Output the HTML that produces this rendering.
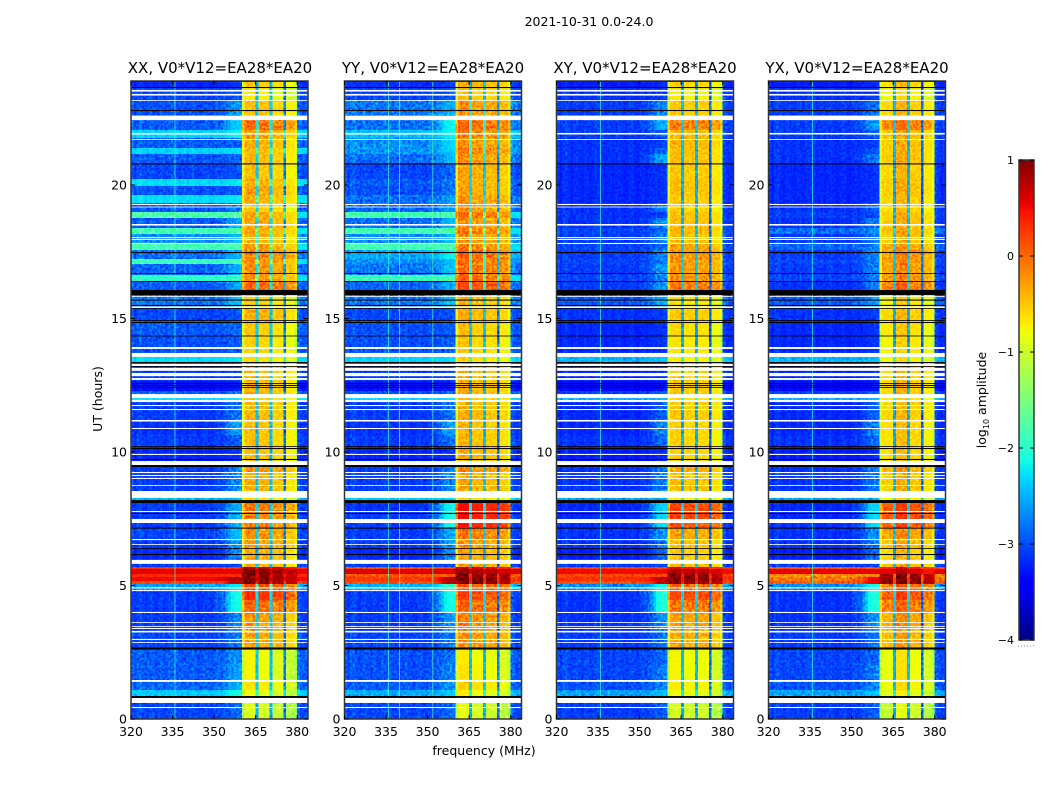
<!DOCTYPE html>
<html>
<head>
<meta charset="utf-8">
<title>2021-10-31 0.0-24.0</title>
<style>
html,body{margin:0;padding:0;background:#fff;width:1050px;height:800px;overflow:hidden}
svg{display:block}
text{font-family:"DejaVu Sans","Liberation Sans",sans-serif;fill:#000}
.tick{font-size:12.5px}
.title{font-size:15px}
</style>
</head>
<body>
<svg id="chart" xmlns="http://www.w3.org/2000/svg" width="1050" height="800" viewBox="0 0 1050 800">
<defs>
<filter id="grain" x="0" y="0" width="100%" height="100%" color-interpolation-filters="sRGB">
<feTurbulence type="fractalNoise" baseFrequency="0.38" numOctaves="2" seed="4"/>
<feColorMatrix type="matrix" values="1.8 0 0 0 -0.4 1.8 0 0 0 -0.4 1.8 0 0 0 -0.4 0 0 0 0 1"/>
</filter>
</defs>
<text x="589" y="26" text-anchor="middle" font-size="12.5">2021-10-31 0.0-24.0</text>
<text x="484" y="755" text-anchor="middle" font-size="12.5">frequency (MHz)</text>
<text transform="translate(102,399) rotate(-90)" text-anchor="middle" font-size="12.5">UT (hours)</text>
<text transform="translate(986,400) rotate(-90)" text-anchor="middle" font-size="12.5">log<tspan font-size="8" dy="3">10</tspan><tspan dy="-3"> amplitude</tspan></text>
</svg>
<script>
// ---- data ----
const panelTitles = ["XX, V0*V12=EA28*EA20","YY, V0*V12=EA28*EA20","XY, V0*V12=EA28*EA20","YX, V0*V12=EA28*EA20"];
const xTicks = [320,335,350,365,380];
const yTicks = [0,5,10,15,20];
const colorbarTicks = [-4,-3,-2,-1,0,1];
const colorbarLabels = ["\u22124","\u22123","\u22122","\u22121","0","1"];

// time block boundaries in UT hours, top to bottom
const hourEdges = [23.90,23.67,23.18,22.62,22.43,22.06,21.76,21.39,21.16,20.82,
20.22,19.96,19.63,19.33,18.99,18.76,18.39,18.16,17.79,17.57,
17.23,17.04,16.63,16.40,16.07,15.88,15.43,14.94,14.34,13.71,
13.56,13.37,12.66,12.28,12.06,11.91,11.20,10.64,10.22,9.48,
9.25,8.54,8.31,8.09,7.75,7.45,7.19,6.70,6.40,5.96,
5.69,5.62,5.43,5.32,5.17,5.06,4.83,4.46,4.01,3.30,
2.66,2.06,1.46,1.09,0.86,0.64,0];

// log10 amplitude of the quiet band (320-355 MHz) per time block
const xxQuiet = [-3.2,-3.05,-3.0,-3.0,-2.95,-2.35,-2.95,-2.35,-2.95,-3.05,
-2.3,-3.0,-2.3,-2.95,-1.8,-2.95,-1.85,-2.7,-1.85,-2.85,
-1.9,-2.9,-2.0,-2.95,-3.1,-2.8,-3.05,-2.95,-3.0,-3.0,
-2.3,-3.1,-3.3,-2.95,-2.3,-3.1,-3.15,-3.1,-3.2,-3.1,
-3.1,-3.1,-2.5,-3.1,-3.1,-3.1,-3.05,-3.1,-3.2,-3.1,
0.3,0.55,0.35,0.5,0.2,-2.6,-3.1,-3.1,-3.1,-3.05,
-2.95,-2.95,-2.9,-2.4,-3.0,-3.05];
const yyQuiet = [-3.15,-3.05,-2.8,-3.0,-2.85,-2.45,-2.7,-2.65,-2.85,-3.05,
-2.95,-3.0,-2.85,-2.9,-1.85,-2.85,-1.85,-2.7,-1.85,-2.55,
-2.7,-2.8,-1.9,-2.9,-3.1,-2.8,-3.05,-3.0,-3.0,-3.0,
-2.35,-3.1,-3.3,-3.0,-2.35,-3.1,-3.15,-3.1,-3.2,-3.1,
-3.1,-3.1,-2.4,-3.15,-3.1,-3.1,-3.1,-3.1,-3.2,-3.1,
0.2,0.6,0.1,0.25,0.15,-2.5,-3.1,-3.1,-3.1,-3.05,
-3.0,-3.0,-2.95,-2.55,-3.0,-3.05];
const xyQuiet = [-3.25,-3.15,-3.1,-3.1,-3.1,-3.1,-3.15,-3.15,-3.15,-3.2,
-3.2,-3.2,-3.2,-3.15,-3.15,-3.15,-3.05,-3.1,-3.05,-3.1,
-3.05,-3.1,-3.05,-3.1,-3.2,-2.95,-3.15,-3.2,-3.2,-3.2,
-2.5,-3.2,-3.35,-3.1,-2.55,-3.2,-3.2,-3.15,-3.25,-3.15,
-3.15,-3.15,-2.6,-3.2,-3.2,-3.15,-3.15,-3.15,-3.25,-3.1,
0.25,0.5,0.2,0.3,0.15,-2.7,-3.15,-3.15,-3.15,-3.1,
-3.05,-3.05,-3.0,-2.6,-3.05,-3.1];
const yxQuiet = [-3.25,-3.15,-3.1,-3.1,-3.1,-3.1,-3.15,-3.15,-3.15,-3.2,
-3.2,-3.2,-3.2,-3.15,-3.1,-3.15,-2.85,-3.1,-2.9,-3.1,
-3.05,-3.1,-3.05,-3.15,-3.2,-2.95,-3.15,-3.2,-3.2,-3.2,
-2.5,-3.2,-3.35,-3.1,-2.55,-3.2,-3.2,-3.15,-3.25,-3.15,
-3.15,-3.15,-2.6,-3.2,-3.2,-3.15,-3.15,-3.15,-3.25,-3.1,
0.15,0.55,-0.2,-0.05,0.05,-2.7,-3.15,-3.15,-3.15,-3.1,
-3.05,-3.05,-3.0,-2.6,-3.05,-3.1];

// log10 amplitude of the bright band (360-380 MHz) per time block
const xxBand = [-0.6,-0.8,-0.55,-0.55,-0.1,-0.35,-0.45,-0.5,-0.5,-0.55,
-0.45,-0.4,-0.45,-0.6,-0.4,-0.4,-0.4,-0.45,-0.35,-0.2,
-0.3,-0.3,-0.3,-0.05,-0.8,-0.65,-0.45,-0.6,-0.65,-0.65,
-0.7,-0.5,-0.5,-0.45,-0.6,-0.5,-0.55,-0.55,-0.55,-0.3,
-0.45,-0.4,-0.7,-0.15,-0.2,-0.2,-0.3,-0.35,-0.45,-0.45,
0.7,0.9,0.9,0.9,0.9,0.1,0.25,-0.05,-0.35,-0.4,
-0.85,-0.85,-0.75,-0.9,-1.0,-1.0];
const yyBand = [-0.5,-0.6,-0.35,-0.5,-0.1,-0.2,-0.35,-0.2,-0.35,-0.45,
-0.45,-0.45,-0.35,-0.35,-0.15,-0.35,-0.2,-0.35,-0.25,-0.05,
-0.15,-0.15,-0.1,0.05,-0.7,-0.55,-0.5,-0.6,-0.65,-0.65,
-0.7,-0.5,-0.5,-0.5,-0.6,-0.5,-0.55,-0.55,-0.5,-0.3,
-0.45,-0.4,-0.7,0.35,0.35,0.3,-0.2,-0.35,-0.45,-0.4,
0.55,0.75,0.9,0.95,0.95,0.0,0.1,-0.1,-0.3,-0.35,
-0.85,-0.8,-0.7,-0.85,-1.0,-1.0];
const xyBand = [-0.6,-0.75,-0.55,-0.55,-0.15,-0.45,-0.45,-0.5,-0.5,-0.55,
-0.5,-0.5,-0.55,-0.6,-0.5,-0.5,-0.45,-0.5,-0.35,-0.25,
-0.3,-0.3,-0.25,-0.1,-0.85,-0.7,-0.55,-0.65,-0.7,-0.7,
-0.75,-0.55,-0.55,-0.55,-0.65,-0.55,-0.6,-0.6,-0.6,-0.4,
-0.5,-0.5,-0.75,0.15,0.2,0.1,-0.35,-0.5,-0.55,-0.45,
0.5,0.75,0.9,0.95,0.9,0.0,0.15,-0.1,-0.35,-0.4,
-0.8,-0.8,-0.75,-0.85,-1.0,-1.0];
const yxBand = [-0.6,-0.75,-0.55,-0.55,-0.15,-0.45,-0.5,-0.5,-0.5,-0.55,
-0.5,-0.5,-0.55,-0.6,-0.5,-0.5,-0.45,-0.5,-0.35,-0.25,
-0.3,-0.3,-0.25,-0.1,-0.85,-0.7,-0.55,-0.65,-0.7,-0.7,
-0.75,-0.55,-0.55,-0.55,-0.65,-0.55,-0.6,-0.6,-0.6,-0.4,
-0.5,-0.5,-0.75,0.1,0.15,0.05,-0.3,-0.45,-0.55,-0.45,
0.45,0.6,0.9,0.95,0.95,0.0,0.1,-0.1,-0.35,-0.4,
-0.8,-0.8,-0.75,-0.85,-1.0,-1.0];

// extra rise just below the band edge (345-359 MHz), log10 units per time block
const xxShoulder = [0,0,.3,0,.5,.1,0,0,0,0, 0,0,0,.1,0,.3,0,.2,0,.3, 0,.3,0,.3,0,.3,0,0,0,0, 0,0,0,.1,0,.2,.5,.1,0,.3, .3,0,0,.5,.5,.5,.5,.4,.4,0, 0,0,0,0,0,.3,.9,.9,.3,.2, .2,.3,.3,.2,0,.1];
const yyShoulder = [0,0,.2,0,.6,.2,.3,.2,.3,.1, .1,.1,.2,.2,0,.3,0,.2,0,.3, .2,.3,0,.3,0,.3,0,0,0,0, 0,0,0,.1,0,.2,.5,.2,0,.3, .3,0,0,.9,.9,.9,.5,.4,.4,0, 0,0,0,0,0,.5,.9,.9,.4,.2, .1,.2,.2,.1,0,.1];
const xyShoulder = [0,0,.3,0,.5,.1,0,.2,.5,0, 0,0,0,.3,0,.4,.1,.3,.1,.3, .2,.4,.2,.4,0,.4,0,0,0,0, 0,0,0,.1,0,.2,.4,.2,0,.3, .3,0,0,.8,.8,.8,.4,.3,.3,0, 0,0,0,0,0,.5,1.0,1.0,.4,.2, .1,.2,.2,.1,0,.1];
const yxShoulder = [0,0,.2,0,.4,.1,0,.1,.3,0, 0,0,0,.2,0,.3,.1,.2,.1,.3, .2,.3,.2,.3,0,.3,0,0,0,0, 0,0,0,.1,0,.2,.4,.2,0,.3, .3,0,0,.8,.8,.8,.4,.3,.3,0, 0,0,0,0,0,.5,1.0,1.0,.4,.2, .1,.2,.2,.1,0,.1];

// level offset of each of the four bright sub-bands
const xxSubband = [.1,.05,-.05,-.2];
const yySubband = [.15,.05,0,-.1];
const xySubband = [.05,0,0,-.15];
const yxSubband = [-.05,.15,0,-.15];

// 64 one-MHz channels starting at 320 MHz
const channelBandWeight = [0,0,0,0,0,0,0,0,0,0, 0,0,0,0,0,0,0,0,0,0, 0,0,0,0,0,0,0,0,0,0, 0,0,0,0,0,0,0,0,0,0,
.85,1,1,1,1,.25, 1,1,1,1,.25, 1,1,1,1,.1, 1,1,1,.92, 0,0,0,0];
const channelShoulderWeight = [0,0,0,0,0,0,0,0,0,0, 0,0,0,0,0,0,0,0,0,0, 0,0,0,0,0,0,0,0,.05,.05, .1,.15,.2,.3,.5,.75,.95,1,1,1,
0,0,0,0,0,0,0,0,0,0, 0,0,0,0,0,0,0,0,0,0, 0,0,0,0];
const channelRipple = [.08,-.05,.06,.1,.02,-.04,.03,.05,0,-.03, .04,.02,-.02,.03,.05,.05,.03,-.02,0,.02, -.03,.02,.05,0,-.04,-.02,.03,.04,-.03,-.05, .02,.03,-.02,.02,.03,.04,.05,.05,.08,.1,
0,.02,.04,0,-.02,0, .03,.04,0,-.03,0, .02,.04,0,-.03,0, .02,.04,0,0, .15,.05,0,.05];
// narrow interference lines: [frequency MHz, log10 amplitude]
const xxLines = [[335.7,-1.9]];
const yyLines = [[335.7,-1.9],[339.7,-1.4],[351.7,-1.7]];
const xyLines = [[335.7,-1.9]];
const yxLines = [[335.7,-2.0]];

// flagged samples, [start,end] in UT hours
const blankedHours = [[23.56,23.50],[23.41,23.35],[23.18,23.15],[22.60,22.43],[21.95,21.89],[21.72,21.69],[19.29,19.25],[19.19,19.16],[18.54,18.48],[18.05,18.01],[17.98,17.94],[17.83,17.79],[15.84,15.81],[15.45,15.39],[13.93,13.86],[13.71,13.56],[13.30,13.22],[13.15,13.04],[12.96,12.84],[12.77,12.70],[12.17,12.02],[11.95,11.87],[11.76,11.72],[11.61,11.57],[11.20,11.14],[10.90,10.86],[9.93,9.89],[9.66,9.51],[9.25,9.21],[9.14,9.10],[9.03,8.99],[8.76,8.73],[8.54,8.28],[7.79,7.75],[7.49,7.34],[6.74,6.70],[6.55,6.52],[5.96,5.81],[4.93,4.89],[4.83,4.79],[4.01,3.97],[3.63,3.60],[3.48,3.45],[3.41,3.37],[3.30,3.24],[3.00,2.96],[2.88,2.85],[1.46,1.39],[0.79,0.60],[0.45,0.41]];
const gapHours = [[23.90,23.86],[23.67,23.63],[22.81,22.77],[20.81,20.77],[17.49,17.45],[16.70,16.67],[16.40,16.37],[16.07,15.88],[15.71,15.67],[15.51,15.47],[15.39,15.36],[14.94,14.91],[14.87,14.83],[14.36,14.33],[13.37,13.33],[13.22,13.19],[12.58,12.55],[12.51,12.47],[12.43,12.40],[10.22,10.19],[10.15,10.11],[9.74,9.70],[9.51,9.44],[8.20,8.09],[7.72,7.68],[7.17,7.13],[6.40,6.37],[6.18,6.14],[2.68,2.60],[0.86,0.79]];

const panelQuiet = [xxQuiet,yyQuiet,xyQuiet,yxQuiet];
const panelBand = [xxBand,yyBand,xyBand,yxBand];
const panelShoulder = [xxShoulder,yyShoulder,xyShoulder,yxShoulder];
const panelSubband = [xxSubband,yySubband,xySubband,yxSubband];
const panelLines = [xxLines,yyLines,xyLines,yxLines];

// ---- layout and scales ----
const NS = "http://www.w3.org/2000/svg";
const svg = document.getElementById("chart");
const axLeft = [131,344.5,556.5,768.5];
const axW = 177, axTop = 81, axBottom = 719;
const xScale = (i,mhz) => axLeft[i] + (mhz-320)*2.77;
const yScale = h => axBottom - h*26.7;
const cbLeft = 1019, cbRight = 1034, cbTop = 160, cbBottom = 640;
const cbScale = v => cbBottom - (v+4)*(cbBottom-cbTop)/5;

function jet(v){
  const t = Math.max(0,Math.min(1,(v+4)/5));
  const seg = (a,pts) => {
    for(let k=1;k<pts.length;k++){
      if(a<=pts[k][0]){
        const f=(a-pts[k-1][0])/(pts[k][0]-pts[k-1][0]||1);
        return pts[k-1][1]+f*(pts[k][1]-pts[k-1][1]);
      }
    }
    return pts[pts.length-1][1];
  };
  const r = seg(t,[[0,0],[.35,0],[.66,1],[.89,1],[1,.5]]);
  const g = seg(t,[[0,0],[.125,0],[.375,1],[.64,1],[.91,0],[1,0]]);
  const b = seg(t,[[0,.5],[.11,1],[.34,1],[.65,0],[1,0]]);
  return "rgb("+Math.round(r*255)+","+Math.round(g*255)+","+Math.round(b*255)+")";
}
function channelLevel(p,row,c){
  const quiet = panelQuiet[p][row];
  const sub = c<46?0:c<51?1:c<56?2:3;
  const band = panelBand[p][row] + panelSubband[p][sub];
  const w = channelBandWeight[c];
  const inRed = quiet > -1;
  let base = quiet + (inRed ? 0 : channelRipple[c]) + panelShoulder[p][row]*channelShoulderWeight[c];
  if(inRed && channelShoulderWeight[c]>0 && row>=53) base += (band-quiet)*channelShoulderWeight[c]*.6;
  if(!inRed && c>=60) base = Math.min(base,-2.25);
  return base + (band-base)*w;
}
function node(tag,attrs,parent){
  const el = document.createElementNS(NS,tag);
  for(const k in attrs) el.setAttribute(k,attrs[k]);
  parent.appendChild(el);
  return el;
}

// ---- panels ----
panelTitles.forEach((title,p) => {
  const group = node("g",{},svg);
  
  
  const clipId = "clip"+p;
  const clip = node("clipPath",{id:clipId},group);
  node("rect",{x:axLeft[p],y:axTop,width:axW,height:axBottom-axTop},clip);
  const body = node("g",{"clip-path":"url(#"+clipId+")",style:"isolation:isolate"},group);

  const frag = document.createDocumentFragment();
  for(let row=0; row<hourEdges.length-1; row++){
    const y0 = yScale(hourEdges[row]), y1 = yScale(hourEdges[row+1]);
    for(let c=0; c<64; c++){
      const x0 = xScale(p,320+c);
      const cell = document.createElementNS(NS,"rect");
      
      
      cell.setAttribute("x",x0);
      cell.setAttribute("y",y0);
      cell.setAttribute("width",2.77+.3);
      cell.setAttribute("height",y1-y0+.3);
      cell.setAttribute("fill",jet(channelLevel(p,row,c)));
      cell.setAttribute("shape-rendering","crispEdges");
      frag.appendChild(cell);
    }
  }
  body.appendChild(frag);

  const grain = node("rect",{x:axLeft[p],y:axTop,width:axW,height:axBottom-axTop,filter:"url(#grain)",style:"mix-blend-mode:overlay",opacity:"0.65"},body);
  
  

  panelLines[p].forEach(l => {
    const r = node("rect",{x:xScale(p,l[0]),y:axTop,width:1,height:axBottom-axTop,fill:jet(l[1]),opacity:"0.7"},body);
    
    
  });
  blankedHours.forEach(b => {
    const r = node("rect",{x:axLeft[p],y:yScale(b[0]),width:axW,height:yScale(b[1])-yScale(b[0]),fill:"#fff"},body);
    
    
  });
  gapHours.forEach(b => {
    const r = node("rect",{x:axLeft[p],y:yScale(b[0]),width:axW,height:yScale(b[1])-yScale(b[0]),fill:"#000"},body);
    
    
  });

  const frame = node("rect",{x:axLeft[p],y:axTop,width:axW,height:axBottom-axTop,fill:"none",stroke:"#333","stroke-width":"1.5"},group);
  
  

  xTicks.forEach(t => {
    const x = xScale(p,t);
    const a = node("line",{x1:x,x2:x,y1:axBottom,y2:axBottom-4,stroke:"#000"},group);
    
    
    const b = node("line",{x1:x,x2:x,y1:axTop,y2:axTop+4,stroke:"#000"},group);
    
    
    const lab = node("text",{x:x,y:axBottom+17,"text-anchor":"middle",class:"tick"},group);
    
    
    lab.textContent = t;
  });
  yTicks.forEach(t => {
    const y = yScale(t);
    const a = node("line",{x1:axLeft[p],x2:axLeft[p]+4,y1:y,y2:y,stroke:"#000"},group);
    
    
    const b = node("line",{x1:axLeft[p]+axW,x2:axLeft[p]+axW-4,y1:y,y2:y,stroke:"#000"},group);
    
    
    const lab = node("text",{x:axLeft[p]-4,y:y+4.5,"text-anchor":"end",class:"tick"},group);
    
    
    lab.textContent = t;
  });
  const ttl = node("text",{x:axLeft[p]+axW/2+(p===0?0.5:0),y:axTop-8,"text-anchor":"middle",class:"title"},group);
  
  
  ttl.textContent = title;
});

// ---- colorbar ----
const cb = node("g",{},svg);


for(let py=cbTop; py<cbBottom; py++){
  const v = -4 + 5*(cbBottom-py-.5)/(cbBottom-cbTop);
  const s = node("rect",{x:cbLeft,y:py,width:cbRight-cbLeft,height:1.2,fill:jet(v),"shape-rendering":"crispEdges"},cb);
  
  
}
const cbFrame = node("rect",{x:cbLeft,y:cbTop,width:cbRight-cbLeft,height:cbBottom-cbTop,fill:"none",stroke:"#333","stroke-width":"1.5"},cb);


colorbarTicks.forEach((v,i) => {
  const y = cbScale(v);
  const a = node("line",{x1:cbLeft,x2:cbLeft+4,y1:y,y2:y,stroke:"#000"},cb);
  
  
  const b = node("line",{x1:cbRight,x2:cbRight-4,y1:y,y2:y,stroke:"#000"},cb);
  
  
  const lab = node("text",{x:cbLeft-5,y:y+4,"text-anchor":"end","font-size":"11"},cb);
  
  
  lab.textContent = colorbarLabels[i];
});
const dots = node("line",{x1:1018,x2:1034,y1:646,y2:646,stroke:"#888","stroke-dasharray":"1 2"},cb);


</script>
</body>
</html>
